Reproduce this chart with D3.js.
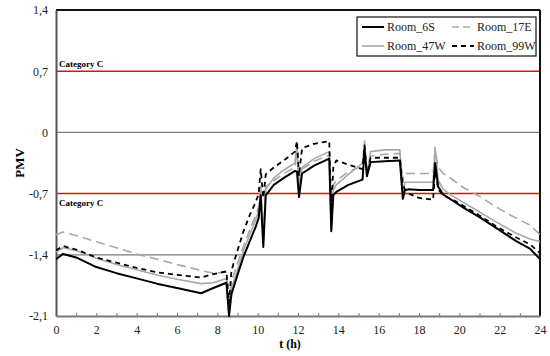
<!DOCTYPE html>
<html>
<head>
<meta charset="utf-8">
<script src="https://cdn.jsdelivr.net/npm/d3@7"></script>
<style>
  body { margin: 0; background: #fff; }
  svg { display: block; }
  svg text { font-family: 'Liberation Serif', 'DejaVu Serif', serif !important; }
</style>
</head>
<body>
<svg width="550" height="356"></svg>
<script>
// time axis (h), shared by all series
const hours = [0, 0.35, 1, 2, 3, 4, 5, 6, 7.2, 7.8, 8.45, 8.58, 8.7, 9.0, 9.3, 9.6, 9.9,
  10.05, 10.15, 10.28, 10.4, 10.8, 11.3, 11.85, 11.95, 12.05, 12.2, 12.8, 13.55, 13.65,
  13.75, 13.9, 14.5, 15.2, 15.3, 15.42, 15.6, 16.3, 17.05, 17.2, 17.3, 17.5, 18.0, 18.7,
  18.8, 18.95, 19.2, 19.6, 20.2, 21, 21.8, 22.8, 23.5, 24];

const room6S = [-1.45, -1.39, -1.43, -1.54, -1.61, -1.67, -1.73, -1.78, -1.84, -1.78, -1.72, -2.1, -1.85, -1.63, -1.42, -1.25, -1.08,
  -0.98, -0.72, -1.31, -0.72, -0.6, -0.52, -0.44, -0.45, -0.74, -0.47, -0.38, -0.3, -1.13,
  -0.72, -0.68, -0.6, -0.54, -0.2, -0.5, -0.34, -0.33, -0.32, -0.76, -0.66, -0.65, -0.66, -0.66,
  -0.35, -0.62, -0.71, -0.77, -0.86, -0.97, -1.09, -1.24, -1.33, -1.45];

const room17E = [-1.17, -1.14, -1.18, -1.25, -1.32, -1.39, -1.45, -1.51, -1.58, -1.61, -1.6, -1.9, -1.7, -1.5, -1.3, -1.12, -0.95,
  -0.85, -0.6, -1.2, -0.62, -0.55, -0.47, -0.4, -0.2, -0.62, -0.42, -0.33, -0.26, -1.0,
  -0.6, -0.55, -0.45, -0.38, -0.15, -0.45, -0.27, -0.25, -0.24, -0.55, -0.47, -0.47, -0.47, -0.47,
  -0.2, -0.4, -0.47, -0.53, -0.63, -0.73, -0.85, -0.98, -1.06, -1.17];

const room47W = [-1.37, -1.32, -1.35, -1.44, -1.51, -1.57, -1.63, -1.68, -1.73, -1.72, -1.67, -2.0, -1.78, -1.57, -1.35, -1.17, -1.0,
  -0.9, -0.65, -1.25, -0.65, -0.52, -0.43, -0.35, -0.12, -0.68, -0.4, -0.3, -0.22, -1.1,
  -0.65, -0.6, -0.48, -0.35, -0.1, -0.48, -0.22, -0.2, -0.2, -0.7, -0.57, -0.57, -0.57, -0.57,
  -0.17, -0.55, -0.65, -0.72, -0.8, -0.91, -1.02, -1.15, -1.22, -1.25];

const room99W = [-1.35, -1.3, -1.34, -1.43, -1.49, -1.55, -1.6, -1.63, -1.66, -1.62, -1.59, -1.95, -1.58, -1.35, -1.13, -0.95, -0.8,
  -0.7, -0.42, -0.75, -0.48, -0.4, -0.32, -0.22, -0.1, -0.5, -0.18, -0.13, -0.1, -0.9,
  -0.4, -0.32, -0.37, -0.42, -0.15, -0.5, -0.29, -0.29, -0.29, -0.6, -0.65, -0.7, -0.75, -0.77,
  -0.4, -0.65, -0.72, -0.76, -0.84, -0.95, -1.07, -1.2, -1.28, -1.38];

const seriesNames = ['Room_6S', 'Room_17E', 'Room_47W', 'Room_99W'];
const yTicks = [1.4, 0.7, 0, -0.7, -1.4, -2.1];
const yTickLabels = ['1,4', '0,7', '0', '-0,7', '-1,4', '-2,1'];
const xTicks = [0, 2, 4, 6, 8, 10, 12, 14, 16, 18, 20, 22, 24];
const categoryLimits = [0.7, -0.7];
const greyLines = [0, -1.4];

const svg = d3.select('svg');
const margin = { top: 10, right: 10, bottom: 40, left: 56 };
const innerWidth = 550 - margin.left - margin.right;
const innerHeight = 356 - margin.top - margin.bottom;

const xScale = d3.scaleLinear().domain([0, 24]).range([0, innerWidth]);
const yScale = d3.scaleLinear().domain([-2.1, 1.4]).range([innerHeight, 0]);

const g = svg.append('g')
  .attr('transform', `translate(${margin.left}, ${margin.top})`);

// horizontal gray lines
g.selectAll('.grid').data(greyLines)
  .enter().append('line')
    .attr('x1', 0).attr('x2', innerWidth)
    .attr('y1', d => yScale(d)).attr('y2', d => yScale(d))
    .attr('stroke', '#7a7a7a').attr('stroke-width', 1.2);

// category C limits
g.selectAll('.limit').data(categoryLimits)
  .enter().append('line')
    .attr('x1', 0).attr('x2', innerWidth)
    .attr('y1', d => yScale(d)).attr('y2', d => yScale(d))
    .attr('stroke', '#e01010').attr('stroke-width', 1.5);

g.append('text').attr('x', 3).attr('y', yScale(0.7) - 4)
  .attr('font-size', 9).attr('font-weight', 'bold').text('Category C');
g.append('text').attr('x', 3).attr('y', yScale(-0.7) + 12)
  .attr('font-size', 9).attr('font-weight', 'bold').text('Category C');

// frame: top + right black
g.append('line').attr('x1', 0).attr('x2', innerWidth).attr('y1', 0).attr('y2', 0)
  .attr('stroke', '#111').attr('stroke-width', 2);
g.append('line').attr('x1', innerWidth).attr('x2', innerWidth).attr('y1', 0).attr('y2', innerHeight)
  .attr('stroke', '#111').attr('stroke-width', 2);

// y-as
const yAxis = g.append('g').call(d3.axisLeft(yScale).tickValues(yTicks).tickSize(0).tickPadding(8)
  .tickFormat((d, i) => yTickLabels[i]));
yAxis.attr('font-size', 12);
yAxis.select('.domain').attr('stroke', '#555').attr('stroke-width', 2);
yAxis.selectAll('text').attr('fill', '#222');

// x-as: minor ticks every hour, labels every 2 h
g.append('g').attr('transform', `translate(0, ${innerHeight})`)
  .call(d3.axisBottom(xScale).tickValues(d3.range(1, 24, 1)).tickSizeInner(-3).tickSizeOuter(0))
  .call(a => a.selectAll('text').remove())
  .call(a => a.selectAll('.tick line').attr('stroke', '#777'))
  .call(a => a.select('.domain').remove());

const xAxis = g.append('g').attr('transform', `translate(0, ${innerHeight})`)
  .call(d3.axisBottom(xScale).tickValues(xTicks).tickSize(0).tickPadding(9).tickFormat(d3.format('d')));
xAxis.attr('font-size', 12);
xAxis.select('.domain').attr('stroke', '#777').attr('stroke-width', 2);
xAxis.selectAll('text').attr('fill', '#222');

svg.append('text').attr('x', 290).attr('y', 348).attr('text-anchor', 'middle')
  .attr('font-size', 12).attr('font-weight', 'bold').text('t (h)');
svg.append('text').attr('transform', 'translate(24, 163) rotate(-90)').attr('text-anchor', 'middle')
  .attr('font-size', 13).attr('font-weight', 'bold').text('PMV');

// series
const styles = [
  { values: room6S, color: '#000', width: 2, dash: null },
  { values: room17E, color: '#a8a8a8', width: 1.6, dash: '9,5' },
  { values: room47W, color: '#a8a8a8', width: 1.6, dash: null },
  { values: room99W, color: '#000', width: 1.8, dash: '5,4' }
];
const drawOrder = [1, 2, 3, 0];

const line = d3.line().x(d => xScale(d[0])).y(d => yScale(d[1]));
g.append('clipPath').attr('id', 'clip').append('rect')
  .attr('width', innerWidth).attr('height', innerHeight + 1);

drawOrder.forEach(i => {
  const s = styles[i];
  g.append('path')
    .datum(hours.map((h, j) => [h, s.values[j]]))
    .attr('clip-path', 'url(#clip)')
    .attr('fill', 'none')
    .attr('stroke', s.color)
    .attr('stroke-width', s.width)
    .attr('stroke-dasharray', s.dash)
    .attr('stroke-linejoin', 'round')
    .attr('d', line);
});

// legend
const legend = svg.append('g').attr('transform', 'translate(357, 17)');
legend.append('rect').attr('width', 179).attr('height', 39)
  .attr('fill', '#fff').attr('stroke', '#111').attr('stroke-width', 1.2);
seriesNames.forEach((name, i) => {
  const s = styles[i];
  const col = i % 2, row = Math.floor(i / 2);
  const lx = 5 + col * 90, ly = 10 + row * 19;
  legend.append('line').attr('x1', lx).attr('x2', lx + 22).attr('y1', ly).attr('y2', ly)
    .attr('stroke', s.color).attr('stroke-width', s.width).attr('stroke-dasharray', s.dash ? (i === 1 ? '7,4' : '5,4') : null);
  legend.append('text').attr('x', lx + 25).attr('y', ly + 4)
    .attr('font-size', 12).attr('fill', '#222').text(name);
});
</script>
</body>
</html>
